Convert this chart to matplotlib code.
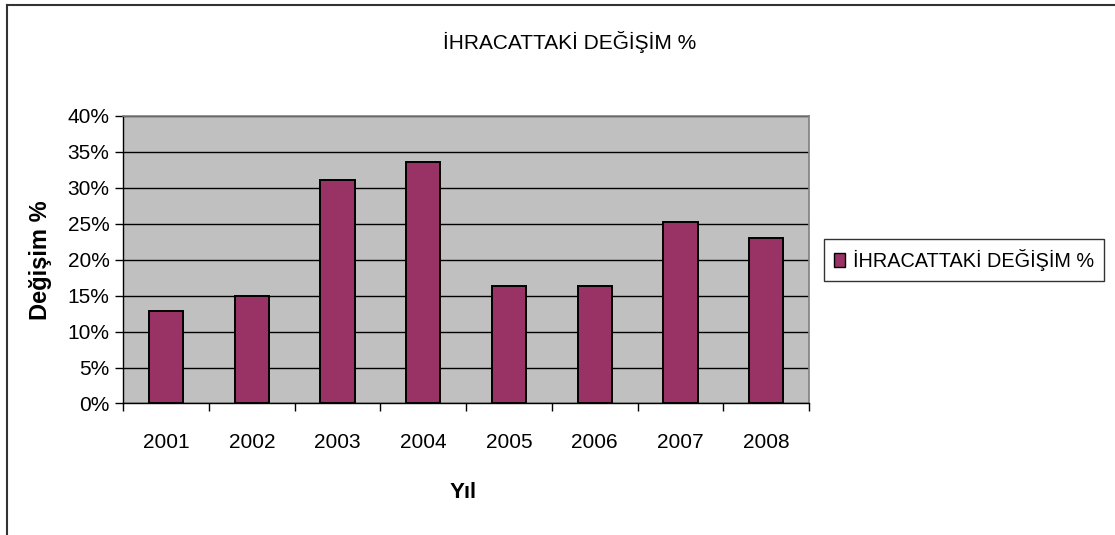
import matplotlib
matplotlib.use("Agg")
import matplotlib.pyplot as plt
from matplotlib.ticker import PercentFormatter, FixedLocator, NullFormatter
from matplotlib.lines import Line2D
from matplotlib.patches import Patch

years = ["2001", "2002", "2003", "2004", "2005", "2006", "2007", "2008"]
values = [12.9, 15.0, 31.05, 33.6, 16.35, 16.35, 25.25, 23.0]
title = "İHRACATTAKİ DEĞİŞİM %"
series_name = "İHRACATTAKİ DEĞİŞİM %"
xlabel = "Yıl"
ylabel = "Değişim %"

plt.rcParams['font.family'] = ['Liberation Sans', 'DejaVu Sans']

fig = plt.figure(figsize=(11.15, 5.35), dpi=100)
ax = fig.add_axes([0.1106, 0.2458, 0.6150, 0.5374])
ax.set_facecolor('#C0C0C0')

x = list(range(len(years)))
ax.bar(x, values, width=0.4, color='#993366', edgecolor='black', linewidth=1.4, zorder=3)

ax.set_xlim(-0.5, len(years) - 0.5)
ax.set_ylim(0, 40)
ax.set_yticks([0, 5, 10, 15, 20, 25, 30, 35, 40])
ax.yaxis.set_major_formatter(PercentFormatter(decimals=0))
ax.set_xticks(x)
ax.set_xticklabels(years, fontsize=15)
ax.tick_params(axis='x', which='major', length=0, pad=21)
ax.xaxis.set_minor_locator(FixedLocator([i - 0.5 for i in range(len(years) + 1)]))
ax.xaxis.set_minor_formatter(NullFormatter())
ax.tick_params(axis='x', which='minor', length=6, width=1, direction='out', color='black')
ax.tick_params(axis='y', length=6, width=1, direction='out', pad=4, labelsize=15)

ax.grid(axis='y', color='black', linewidth=1, zorder=1)
ax.set_axisbelow(True)
for s in ['top', 'right']:
    ax.spines[s].set_color('#808080')
    ax.spines[s].set_linewidth(1.2)
for s in ['left', 'bottom']:
    ax.spines[s].set_color('black')
    ax.spines[s].set_linewidth(1)

fig.text(463 / 1115, 1 - 492 / 535, xlabel, ha='center', va='center', fontsize=16, fontweight='bold')
fig.text(41 / 1115, 1 - 260 / 535, ylabel, ha='center', va='center', rotation=90,
         fontsize=17, fontweight='bold')

fig.text(570 / 1115, 1 - 42 / 535, title, ha='center', va='center', fontsize=15)

handle = Patch(facecolor='#993366', edgecolor='black', linewidth=1)
leg = fig.legend([handle], [series_name], loc='center', bbox_to_anchor=(964 / 1115, 1 - 260 / 535),
                 prop={'size': 14.3}, frameon=True, fancybox=False, edgecolor='black',
                 handlelength=0.55, handleheight=0.75, handletextpad=0.4,
                 borderpad=0.5, borderaxespad=0)
leg.get_frame().set_linewidth(1)

# chart area border (top and left only visible)
fig.add_artist(Line2D([0.0063, 1.0], [0.9907, 0.9907], transform=fig.transFigure, color='#333333', linewidth=1.5))
fig.add_artist(Line2D([0.0063, 0.0063], [0.0, 0.9907], transform=fig.transFigure, color='#333333', linewidth=1.5))

fig.savefig("out.png", dpi=100)
